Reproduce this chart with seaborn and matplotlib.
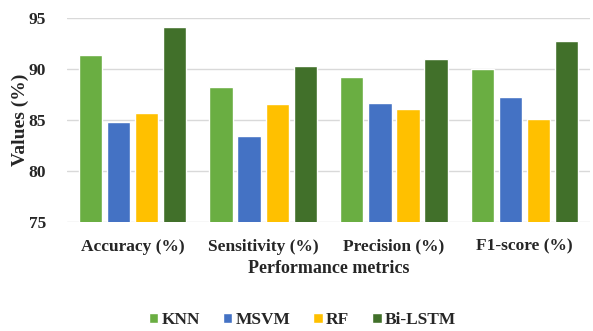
import matplotlib
matplotlib.use("Agg")
import matplotlib.pyplot as plt
import pandas as pd
import seaborn as sns

metrics = ["Accuracy (%)", "Sensitivity (%)", "Precision (%)", "F1-score (%)"]
models = ["KNN", "MSVM", "RF", "Bi-LSTM"]
knn = [91.4, 88.2, 89.25, 90.0]
msvm = [84.8, 83.4, 86.7, 87.3]
rf = [85.65, 86.6, 86.1, 85.1]
bilstm = [94.15, 90.3, 90.95, 92.7]

colors = ["#6AAE42", "#4472C4", "#FFC000", "#41702A"]

df = pd.DataFrame({"KNN": knn, "MSVM": msvm, "RF": rf, "Bi-LSTM": bilstm}, index=metrics)
long = df.reset_index(names="metric").melt(id_vars="metric", var_name="model", value_name="value")

sns.set_style("white")
plt.rcParams["font.family"] = ["Liberation Serif", "DejaVu Serif"]
plt.rcParams["font.weight"] = "bold"

fig = plt.figure(figsize=(5.93, 3.31), dpi=100)
ax = fig.add_axes([0.113, 0.329, 0.882, 0.617])
sns.barplot(data=long, x="metric", y="value", hue="model", hue_order=models,
            palette=colors, saturation=1, width=0.86, gap=0.17, ax=ax, legend=True)

ax.set_ylim(75, 95)
ax.set_yticks([75, 80, 85, 90, 95])
ax.yaxis.grid(True, color="#d9d9d9", linewidth=1)
ax.set_axisbelow(True)
for s in ax.spines.values():
    s.set_visible(False)
ax.tick_params(axis="both", length=0, labelsize=12.5)
ax.tick_params(axis="x", pad=12)
ax.tick_params(axis="y", pad=15)
for lbl in ax.get_xticklabels() + ax.get_yticklabels():
    lbl.set_fontweight("bold")
ax.set_xlim(-0.5, 3.5)
ax.set_xlabel("Performance metrics", fontsize=13, fontweight="bold", labelpad=4)
ax.set_ylabel("Values (%)", fontsize=14, fontweight="bold", labelpad=0)

handles, labels = ax.get_legend_handles_labels()
ax.legend_.remove()
fig.legend(handles, labels, loc="center", bbox_to_anchor=(0.51, 0.033), ncol=4,
           frameon=False, prop={"weight": "bold", "size": 12.5},
           handlelength=0.55, handleheight=0.55, handletextpad=0.2, columnspacing=1.3)

fig.savefig("out.png", dpi=100)
